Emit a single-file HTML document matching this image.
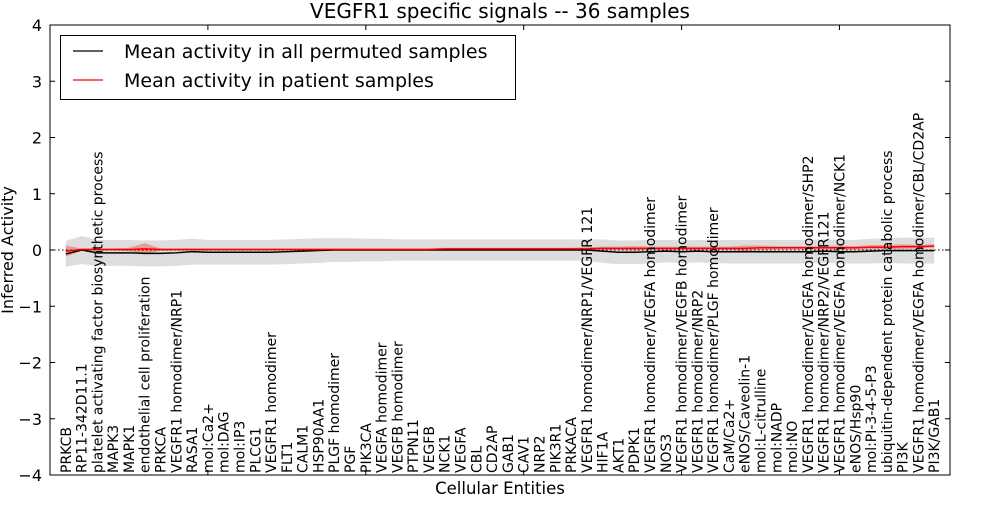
<!DOCTYPE html>
<html><head><meta charset="utf-8"><style>
body{margin:0;background:#fff;}
svg text{font-family:"DejaVu Sans","Liberation Sans",sans-serif;}
</style></head><body>
<svg id="chart" width="1000" height="500">
<g id="bands"></g><g id="lines"></g><g id="axes"></g><g id="labels"></g>
<text x="500" y="18" font-size="20" text-anchor="middle">VEGFR1 specific signals -- 36 samples</text>
<text x="500" y="494" font-size="16.5" text-anchor="middle">Cellular Entities</text>
<text transform="translate(13,250) rotate(-90)" font-size="16" text-anchor="middle">Inferred Activity</text>
<g>
<rect x="60.5" y="35.5" width="455" height="64" fill="#fff" stroke="#000"/>
<line x1="73" y1="51" x2="103" y2="51" stroke="#000" stroke-width="1.3"/>
<text x="124" y="58" font-size="19">Mean activity in all permuted samples</text>
<line x1="73" y1="80" x2="103" y2="80" stroke="#f00" stroke-width="1.3"/>
<text x="124" y="87" font-size="19">Mean activity in patient samples</text>
</g>
</svg>
<script>
const categories=["PRKCB","RP11-342D11.1","platelet activating factor biosynthetic process","MAPK3","MAPK1","endothelial cell proliferation","PRKCA","VEGFR1 homodimer/NRP1","RASA1","mol:Ca2+","mol:DAG","mol:IP3","PLCG1","VEGFR1 homodimer","FLT1","CALM1","HSP90AA1","PLGF homodimer","PGF","PIK3CA","VEGFA homodimer","VEGFB homodimer","PTPN11","VEGFB","NCK1","VEGFA","CBL","CD2AP","GAB1","CAV1","NRP2","PIK3R1","PRKACA","VEGFR1 homodimer/NRP1/VEGFR 121","HIF1A","AKT1","PDPK1","VEGFR1 homodimer/VEGFA homodimer","NOS3","VEGFR1 homodimer/VEGFB homodimer","VEGFR1 homodimer/NRP2","VEGFR1 homodimer/PLGF homodimer","CaM/Ca2+","eNOS/Caveolin-1","mol:L-citrulline","mol:NADP","mol:NO","VEGFR1 homodimer/VEGFA homodimer/SHP2","VEGFR1 homodimer/NRP2/VEGFR121","VEGFR1 homodimer/VEGFA homodimer/NCK1","eNOS/Hsp90","mol:PI-3-4-5-P3","ubiquitin-dependent protein catabolic process","PI3K","VEGFR1 homodimer/VEGFA homodimer/CBL/CD2AP","PI3K/GAB1"];
const permMean=[-0.07,0,-0.05,-0.05,-0.05,-0.06,-0.06,-0.05,-0.03,-0.04,-0.04,-0.04,-0.04,-0.04,-0.03,-0.02,-0.01,0,0,0,0,0,0,0,0,0,0,0,0,0,0,0,0,0,-0.02,-0.04,-0.04,-0.03,-0.02,-0.03,-0.02,-0.03,-0.03,-0.03,-0.03,-0.03,-0.03,-0.03,-0.02,-0.03,-0.03,-0.02,-0.01,-0.01,-0.01,-0.01];
const permSd=[0.23,0.25,0.23,0.23,0.23,0.23,0.23,0.23,0.23,0.22,0.22,0.22,0.22,0.22,0.22,0.22,0.22,0.21,0.21,0.2,0.2,0.19,0.19,0.19,0.19,0.19,0.19,0.19,0.19,0.19,0.19,0.19,0.19,0.19,0.21,0.21,0.21,0.21,0.2,0.2,0.2,0.2,0.21,0.21,0.21,0.21,0.21,0.21,0.21,0.21,0.21,0.22,0.22,0.23,0.23,0.23];
const patMean=[-0.02,0.01,0.01,0.01,0.01,0.02,0.01,0.01,0.01,0.01,0.01,0.01,0.01,0.01,0.01,0.01,0.01,0.01,0.01,0.01,0.01,0.01,0.01,0.01,0.02,0.02,0.02,0.02,0.02,0.02,0.02,0.02,0.02,0.02,0.03,0.03,0.03,0.03,0.03,0.03,0.03,0.03,0.03,0.03,0.04,0.04,0.04,0.04,0.04,0.04,0.04,0.05,0.05,0.06,0.06,0.07];
const patSd=[0.1,0.02,0.02,0.02,0.03,0.1,0.02,0.02,0.02,0.02,0.02,0.02,0.02,0.02,0.02,0.02,0.02,0.02,0.02,0.02,0.02,0.02,0.02,0.02,0.02,0.02,0.02,0.02,0.02,0.02,0.02,0.02,0.02,0.03,0.03,0.03,0.04,0.03,0.03,0.03,0.03,0.03,0.03,0.05,0.04,0.03,0.03,0.03,0.03,0.04,0.03,0.04,0.04,0.04,0.03,0.03];
const yTicks=[-4,-3,-2,-1,0,1,2,3,4];
const NS="http://www.w3.org/2000/svg";
const L=50,R=950,T=25,B=475,step=(R-L)/57;
const xs=i=>L+(i+1)*step;
const ys=v=>250-v*(B-T)/8;
function mk(tag,attrs,parent){const e=document.createElementNS(NS,tag);for(const k in attrs)e.setAttribute(k,attrs[k]);parent.appendChild(e);return e;}
function band(mean,sd,fill,op,name){
 let up=mean.map((m,i)=>xs(i)+","+ys(m+sd[i]));
 let dn=mean.map((m,i)=>xs(i)+","+ys(m-sd[i])).reverse();
 const p=mk("polygon",{points:up.concat(dn).join(" "),fill:fill,"fill-opacity":op},document.getElementById("bands"));
 
 
}
band(permMean,permSd,"#aaa",0.4,"permuted-band");
band(patMean,patSd,"#f00",0.3,"patient-band");
const zl=mk("line",{x1:L,x2:R,y1:ys(0),y2:ys(0),stroke:"#000","stroke-dasharray":"1.5,2.5","stroke-width":1},document.getElementById("lines"));


function line(mean,col,name){
 const p=mk("polyline",{points:mean.map((m,i)=>xs(i)+","+ys(m)).join(" "),fill:"none",stroke:col,"stroke-width":1.5},document.getElementById("lines"));
 
 
}
line(permMean,"#000","permuted-mean-line");
line(patMean,"#f00","patient-mean-line");
const ax=document.getElementById("axes");
const fr=mk("rect",{x:L,y:T,width:R-L,height:B-T,fill:"none",stroke:"#000","stroke-width":1},ax);


yTicks.forEach(v=>{
 const y=ys(v);
 mk("line",{x1:L,x2:L+5,y1:y,y2:y,stroke:"#000"},ax);
 mk("line",{x1:R-5,x2:R,y1:y,y2:y,stroke:"#000"},ax);
 const t=mk("text",{x:L-8,y:y+6,"font-size":16,"text-anchor":"end"},ax);
 t.textContent=(v<0?"\u2212"+(-v):""+v);
 
 
});
for(let i=0;i<=57;i+=10){const x=L+i*step;mk("line",{x1:x,x2:x,y1:T,y2:T+5,stroke:"#000"},ax);mk("line",{x1:x,x2:x,y1:B-5,y2:B,stroke:"#000"},ax);}
const lg=document.getElementById("labels");
categories.forEach((c,i)=>{
 const x=xs(i)+5;
 const t=mk("text",{transform:`translate(${x},${B-2}) rotate(-90)`,"font-size":14},lg);
 t.textContent=c;
 
 
});
</script>
</body></html>
